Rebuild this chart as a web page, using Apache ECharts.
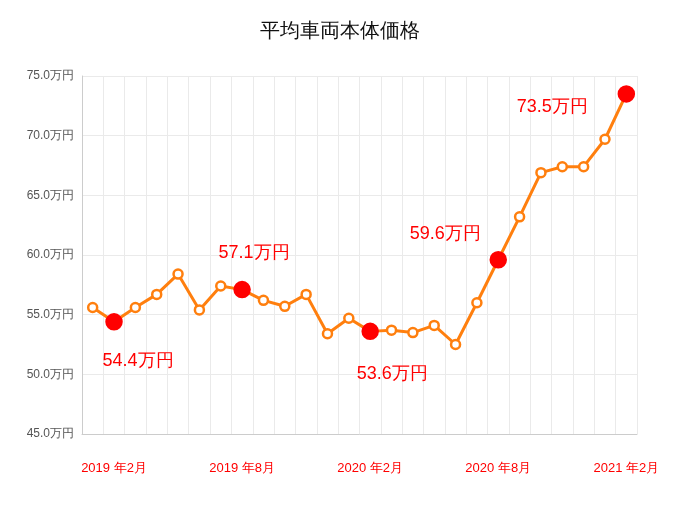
<!DOCTYPE html>
<html><head><meta charset="utf-8">
<script src="https://cdn.jsdelivr.net/npm/echarts@6/dist/echarts.min.js"></script>
<style>html,body{margin:0;padding:0;background:#fff}#c{width:680px;height:510px}</style>
</head><body><div id="c"></div>
<script>
var categories=['2019-01','2019-02','2019-03','2019-04','2019-05','2019-06','2019-07','2019-08','2019-09','2019-10','2019-11','2019-12','2020-01','2020-02','2020-03','2020-04','2020-05','2020-06','2020-07','2020-08','2020-09','2020-10','2020-11','2020-12','2021-01','2021-02'];
var tickLabels={1:'2019 年2月',7:'2019 年8月',13:'2020 年2月',19:'2020 年8月',25:'2021 年2月'};
var values=[55.6,54.4,55.6,56.7,58.4,55.4,57.4,57.1,56.2,55.7,56.7,53.4,54.7,53.6,53.7,53.5,54.1,52.5,56.0,59.6,63.2,66.9,67.4,67.4,69.7,73.5];
var highlights={1:[24,39],7:[12,-37],13:[22,43],19:[-53,-26],25:[-74,13]};
var data=values.map(function(v,i){
  if(highlights[i]){
    return {value:v,symbolSize:15,itemStyle:{color:'#ff0000',borderColor:'#ff0000'},
      label:{show:true,formatter:v.toFixed(1)+'万円',color:'#ff0000',fontSize:18,offset:highlights[i],position:'inside'}};
  }
  return v;
});
var chart=echarts.init(document.getElementById('c'));
chart.setOption({
  animation:false,
  title:{text:'平均車両本体価格',left:'center',top:16,textStyle:{fontSize:20,fontWeight:'normal',color:'#111'}},
  grid:{left:82,right:43,top:76,bottom:76},
  xAxis:{type:'category',data:categories,boundaryGap:true,
    axisLine:{lineStyle:{color:'#ccc'}},axisTick:{show:false},
    splitLine:{show:true,lineStyle:{color:'#eaeaea'}},
    axisLabel:{interval:0,margin:28,color:'#ff0000',fontSize:13,formatter:function(v,i){return tickLabels[i]||'';}}},
  yAxis:{type:'value',min:45,max:75,interval:5,
    axisLine:{show:true,lineStyle:{color:'#ccc'}},
    splitLine:{lineStyle:{color:'#eaeaea'}},
    axisLabel:{color:'#555',fontSize:12,formatter:function(v){return v.toFixed(1)+'万円';}}},
  series:[{type:'line',data:data,symbol:'circle',symbolSize:9,
    lineStyle:{color:'#ff7f0e',width:3},
    itemStyle:{color:'#fff',borderColor:'#ff7f0e',borderWidth:2.5}}]
});
</script></body></html>
